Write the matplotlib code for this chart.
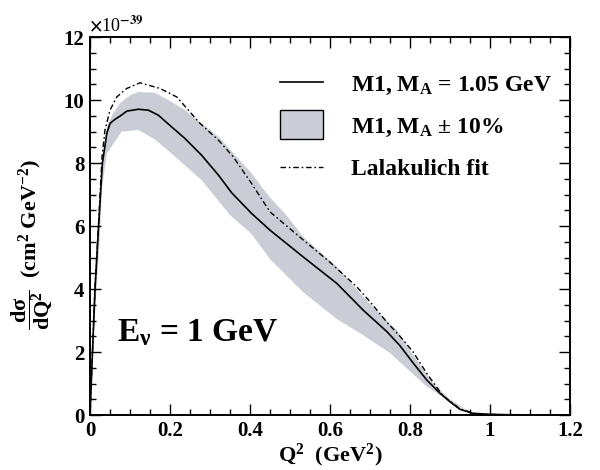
import numpy as np
import matplotlib
matplotlib.use("Agg")
import matplotlib.pyplot as plt
import matplotlib.patches as mpatches
from matplotlib.lines import Line2D
from matplotlib.legend_handler import HandlerPatch
from matplotlib.ticker import MultipleLocator, FuncFormatter

plt.rcParams['font.family'] = ['Liberation Serif', 'DejaVu Serif']
plt.rcParams['font.weight'] = 'bold'
plt.rcParams['axes.labelweight'] = 'bold'
plt.rcParams['mathtext.fontset'] = 'custom'
plt.rcParams['mathtext.rm'] = 'Liberation Serif:bold'
plt.rcParams['mathtext.bf'] = 'Liberation Serif:bold'
plt.rcParams['mathtext.it'] = 'Liberation Serif:bold'
plt.rcParams['mathtext.default'] = 'rm'

# ---- data (units of 1e-39 cm^2 GeV^-2) ----
q_solid = [0, 0.004, 0.0125, 0.021, 0.031, 0.042, 0.05, 0.0625, 0.075, 0.092, 0.121, 0.146,
           0.171, 0.204, 0.2375, 0.279, 0.321, 0.354, 0.404, 0.45, 0.533, 0.617, 0.683, 0.742,
           0.775, 0.808, 0.842, 0.875, 0.9, 0.925, 0.958, 1.0, 1.05, 1.1, 1.2]
v_solid = [0, 1.3, 4.0, 5.9, 8.0, 8.94, 9.26, 9.39, 9.49, 9.65, 9.71, 9.68,
           9.52, 9.15, 8.78, 8.25, 7.62, 7.06, 6.40, 5.87, 5.02, 4.18, 3.33, 2.65,
           2.2, 1.65, 1.11, 0.69, 0.42, 0.18, 0.05, 0.02, 0.008, 0.003, 0.0]

q_fit = [0, 0.004, 0.0125, 0.021, 0.03, 0.0375, 0.05, 0.067, 0.092, 0.125, 0.175, 0.217,
         0.275, 0.321, 0.358, 0.404, 0.45, 0.533, 0.6, 0.667, 0.7, 0.742, 0.775, 0.808,
         0.842, 0.883, 0.925, 0.958, 1.0, 1.05, 1.1, 1.2]
v_fit = [0, 1.3, 4.0, 6.0, 8.2, 9.05, 9.68, 10.1, 10.37, 10.55, 10.37, 10.1,
         9.26, 8.73, 8.2, 7.35, 6.45, 5.56, 4.85, 4.07, 3.6, 2.95, 2.5, 2.0,
         1.32, 0.6, 0.2, 0.06, 0.02, 0.008, 0.003, 0.0]

q_up = [0, 0.004, 0.0125, 0.021, 0.031, 0.042, 0.058, 0.075, 0.1, 0.121, 0.1625, 0.196,
        0.2375, 0.321, 0.404, 0.45, 0.4875, 0.533, 0.617, 0.683, 0.725, 0.767, 0.8, 0.858,
        0.9, 0.95, 1.0, 1.2]
v_up = [0, 1.4, 4.2, 6.1, 8.1, 9.15, 9.58, 9.9, 10.15, 10.26, 10.23, 10.0,
        9.68, 8.84, 7.67, 6.9, 6.40, 5.66, 4.71, 3.76, 3.2, 2.70, 2.06, 1.0,
        0.5, 0.1, 0.03, 0.0]

q_lo = [0, 0.006, 0.015, 0.024, 0.03, 0.042, 0.079, 0.121, 0.1625, 0.204, 0.279, 0.35,
        0.404, 0.45, 0.533, 0.617, 0.675, 0.75, 0.842, 0.908, 0.95, 1.0, 1.2]
v_lo = [0, 1.5, 3.8, 5.5, 7.2, 8.3, 9.0, 9.05, 8.75, 8.3, 7.46, 6.35,
        5.75, 4.95, 3.9, 3.05, 2.6, 1.97, 0.9, 0.37, 0.1, 0.03, 0.0]

x_ticks = [0, 0.2, 0.4, 0.6, 0.8, 1.0, 1.2]
y_ticks = [0, 2, 4, 6, 8, 10, 12]

labels = [r'M1, M$_{\mathbf{A}}$ = 1.05 GeV', r'M1, M$_{\mathbf{A}}$ ± 10%', 'Lalakulich fit']

fig = plt.figure(figsize=(6, 4.7), dpi=100)
ax = fig.add_axes([0.15, 0.117, 0.80, 0.804])

band_color = '#cacdd5'
ax.fill(np.r_[q_up, q_lo[::-1]], np.r_[v_up, v_lo[::-1]], color=band_color, lw=0, zorder=1)
ax.plot(q_solid, v_solid, color='black', lw=1.2, zorder=3)
ax.plot(q_fit, v_fit, color='black', lw=1.0, dashes=(4, 2, 1.2, 2), zorder=3)

ax.set_xlim(0, 1.2)
ax.set_ylim(0, 12)
ax.set_xticks(x_ticks)
ax.set_yticks(y_ticks)
ax.xaxis.set_minor_locator(MultipleLocator(0.05))
ax.yaxis.set_minor_locator(MultipleLocator(0.5))
ax.xaxis.set_major_formatter(FuncFormatter(lambda v, p: '%g' % v))
ax.tick_params(which='both', direction='in', top=True, right=True, width=1, labelsize=15)
ax.tick_params(which='major', length=8, pad=4)
ax.tick_params(which='minor', length=4)
for s in ax.spines.values():
    s.set_linewidth(1.4)

ax.set_xlabel(r'Q$^2$  (GeV$^2$)', fontsize=16, fontweight='bold', labelpad=1)
fig.text(0.052, 0.479, r'$\dfrac{\mathrm{d}\sigma}{\mathrm{d}Q^2}$  (cm$^2$ GeV$^{-2}$)',
         rotation=90, ha='center', va='center', fontsize=16, fontweight='bold')
fig.text(0.148, 0.925, r'$\times$10$^{-39}$', fontsize=13, fontweight='normal',
         ha='left', va='bottom', math_fontfamily='stix')

ax.text(0.056, 0.196, r'E$_{\nu}$ = 1 GeV', transform=ax.transAxes, fontsize=24,
        ha='left', va='baseline')


def make_box(legend, orig_handle, xdescent, ydescent, width, height, fontsize):
    return mpatches.Rectangle((-xdescent, -ydescent - height * 0.37), width, height * 1.75)


handles = [Line2D([], [], color='black', lw=1.2),
           mpatches.Patch(facecolor=band_color, edgecolor='black', lw=1),
           Line2D([], [], color='black', lw=1.0, dashes=(4, 2, 1.2, 2))]
leg = ax.legend(handles, labels, loc='upper left', bbox_to_anchor=(0.396, 0.902),
                frameon=False, fontsize=17, handlelength=1.8, handletextpad=1.2,
                labelspacing=0.83, borderpad=0, borderaxespad=0,
                handler_map={mpatches.Patch: HandlerPatch(patch_func=make_box)})

fig.savefig('out.png', dpi=100)
